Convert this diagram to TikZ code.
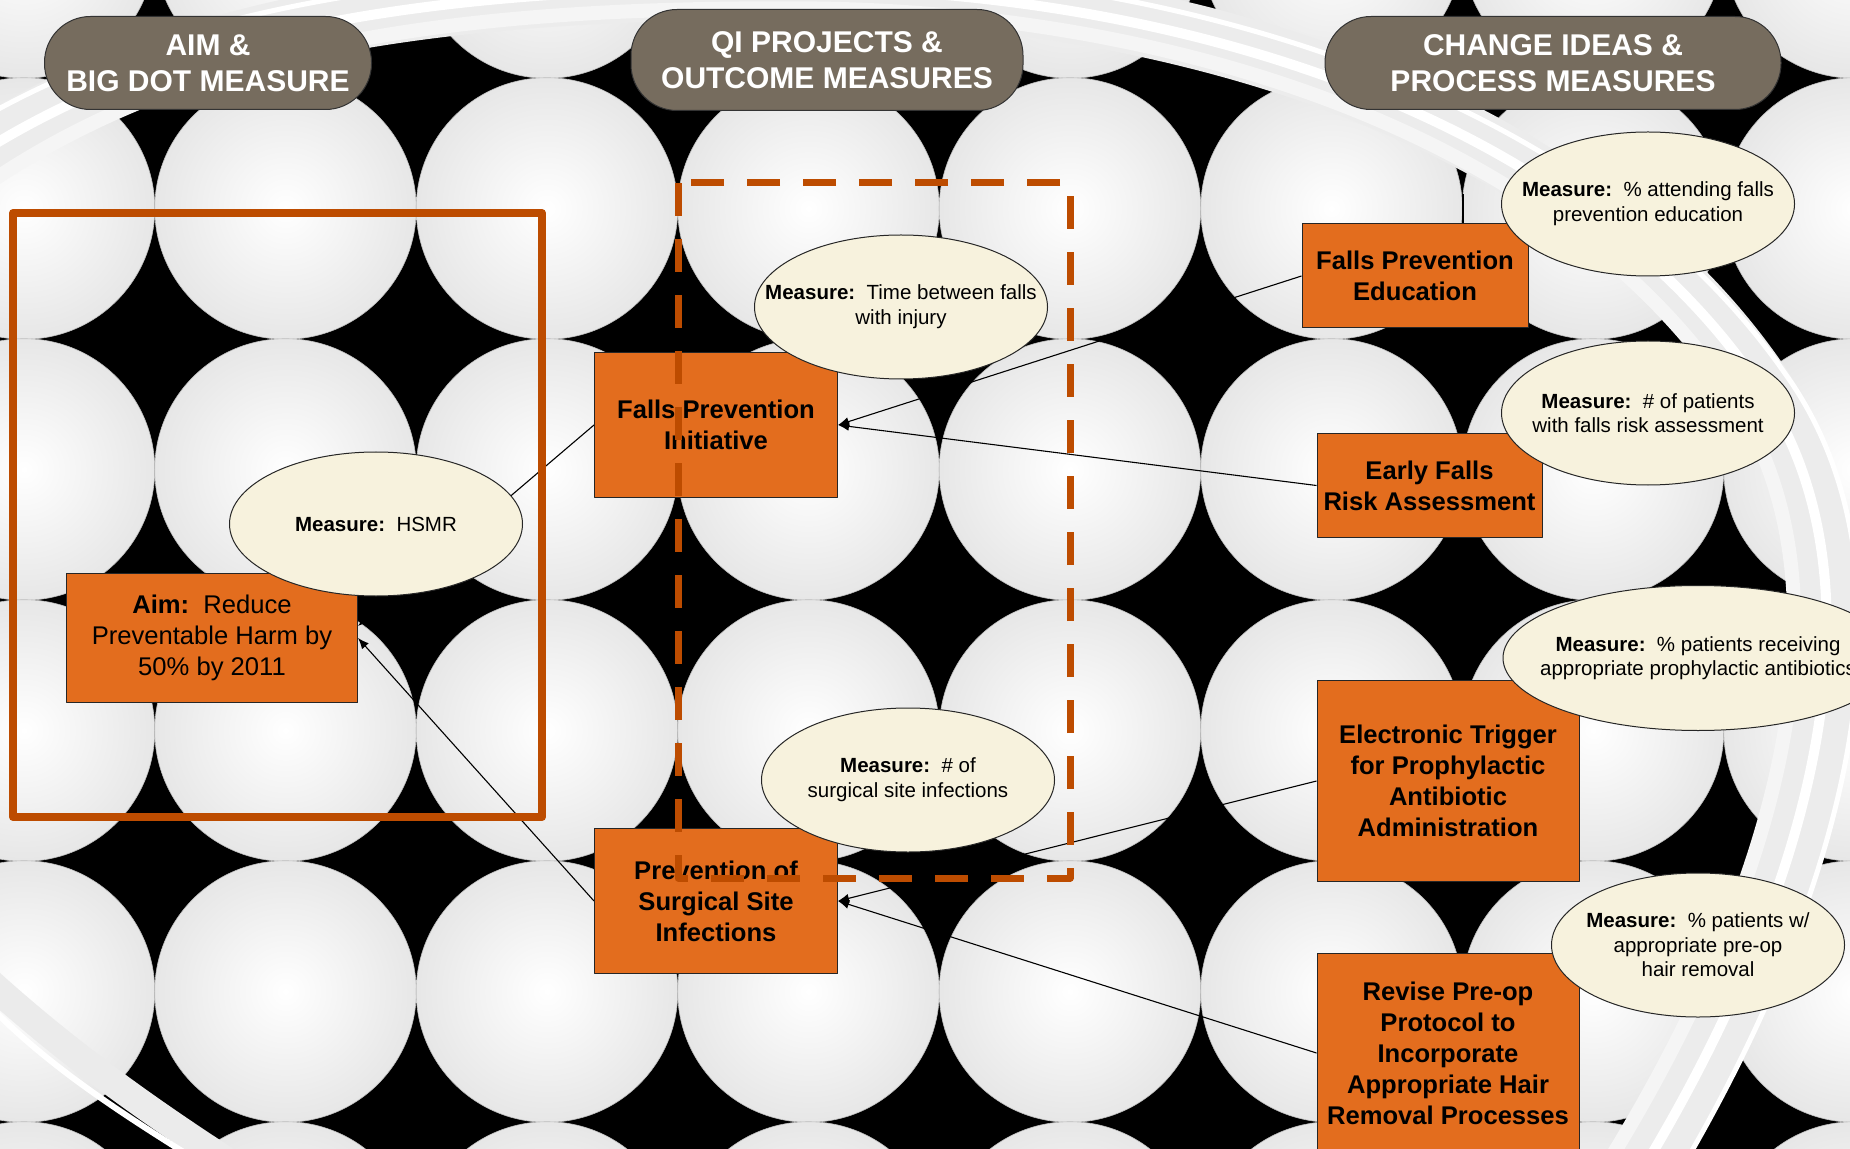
\documentclass[tikz,border=0pt]{standalone}
\usepackage{fontspec}
\setmainfont{Liberation Sans}
\usetikzlibrary{shapes.geometric,arrows.meta}
\definecolor{HeaderTaupe}{HTML}{766C5E}
\definecolor{BoxOrange}{HTML}{E36D1E}
\definecolor{FrameOrange}{HTML}{BD4C00}
\definecolor{MeasureCream}{HTML}{F7F2DD}
\pgfdeclarelayer{background}
\pgfdeclarelayer{links}
\pgfsetlayers{background,links,main}
\newcommand\swirlpath{(-60,180) .. controls (150,30) and (420,-14) .. (800,-12) .. controls (1150,-10) and (1560,100) .. (1755,380) .. controls (1885,560) and (1835,860) .. (1630,1190)}

\begin{document}
\begin{tikzpicture}[x=0.5pt,y=-0.5pt,line cap=round,line join=round,
  header/.style={draw=black!80,line width=0.5pt,fill=HeaderTaupe,text=white,font=\fontsize{15}{18}\selectfont\bfseries,align=center,rounded corners=23pt,inner sep=2pt},
  project/.style={draw=black!85,line width=0.5pt,fill=BoxOrange,font=\fontsize{12.8}{15.5}\selectfont\bfseries,align=center,inner sep=2pt},
  measure/.style={ellipse,draw=black!85,line width=0.5pt,fill=MeasureCream,font=\fontsize{10.25}{12.3}\selectfont,align=center,inner xsep=-80pt,inner ysep=0pt,minimum width=146.5pt,minimum height=72pt},
  link/.style={line width=0.55pt,-{Latex[length=5.5pt,width=4.5pt]}}]
  \useasboundingbox (0,0) rectangle (1850,1149);
  \begin{pgfonlayer}{background}
    \clip (0,0) rectangle (1850,1149);
    \fill[black] (0,0) rectangle (1850,1149);
    \foreach \row in {0,...,5}
      \foreach \col in {0,...,7}
        \draw[gray!50,line width=0.3pt,inner color=white,outer color=gray!19] ({24+261.5*\col},{-52.5+261*\row}) circle[radius=130.75];
    \draw[gray!15,line width=32pt] \swirlpath;
    \draw[white,line width=5pt] \swirlpath;
    \begin{scope}[shift={(900,570)},scale=1.035,shift={(-900,-570)}]
      \draw[white,line width=2.5pt] \swirlpath;
    \end{scope}
    \begin{scope}[shift={(900,570)},scale=0.965,shift={(-900,-570)}]
      \draw[gray!8,line width=7pt] \swirlpath;
    \end{scope}
    \draw[gray!16,line width=14pt] (-40,955) .. controls (60,1050) and (160,1120) .. (280,1195);
    \draw[white,line width=3pt] (-30,985) .. controls (50,1075) and (150,1130) .. (260,1200);
  \end{pgfonlayer}

  \node[header,minimum width=163.5pt,minimum height=46.5pt] (hAim) at (208,63) {AIM \&\\BIG DOT MEASURE};
  \node[header,minimum width=196pt,minimum height=50.5pt] (hQI) at (827,60) {QI PROJECTS \&\\OUTCOME MEASURES};
  \node[header,minimum width=228pt,minimum height=46.5pt] (hChange) at (1553,63) {CHANGE IDEAS \&\\PROCESS MEASURES};

  \draw[FrameOrange,line width=4pt,line cap=butt] (13,213) rectangle (542,817);

  \node[project,font=\fontsize{12.8}{15.5}\selectfont,minimum width=145.5pt,minimum height=64.5pt] (aim) at (212,638) {\textbf{Aim:}\ \ Reduce\\Preventable Harm by\\50\% by 2011};
  \node[project,minimum width=121.5pt,minimum height=72pt] (fpi) at (716,425) {Falls Prevention\\Initiative};
  \node[project,minimum width=121.5pt,minimum height=72.5pt] (pssi) at (716,901) {Prevention of\\Surgical Site\\Infections};
  \node[project,minimum width=113pt,minimum height=52pt] (fpe) at (1415,276) {Falls Prevention\\Education};
  \node[project,minimum width=112.5pt,minimum height=51.5pt] (efra) at (1429.5,485.5) {Early Falls\\Risk Assessment};
  \node[project,minimum width=131pt,minimum height=100.5pt] (etpa) at (1448,781) {Electronic Trigger\\for Prophylactic\\Antibiotic\\Administration};
  \node[project,minimum width=131pt,minimum height=100pt] (rpp) at (1448,1053) {Revise Pre-op\\Protocol to\\Incorporate\\Appropriate Hair\\Removal Processes};

  \node[measure] (mhsmr) at (376,524) {\textbf{Measure:}\ \ HSMR};
  \node[measure] (mtime) at (901,307) {\textbf{Measure:}\ \ Time between falls\\with injury};
  \node[measure] (mssi) at (908,780) {\textbf{Measure:}\ \ \# of\\surgical site infections};
  \node[measure] (mfpe) at (1648,204) {\textbf{Measure:}\ \ \% attending falls\\prevention education};
  \node[measure] (mrisk) at (1648,413) {\textbf{Measure:}\ \ \# of patients\\with falls risk assessment};
  \node[measure,minimum width=195pt,minimum height=72.5pt] (mabx) at (1698,658) {\textbf{Measure:}\ \ \% patients receiving\\appropriate prophylactic antibiotics};
  \node[measure] (mhair) at (1698,945) {\textbf{Measure:}\ \ \% patients w/\\appropriate pre-op\\hair removal};

  \coordinate (fpetick) at (1463,194);
  \begin{pgfonlayer}{links}
    \draw[link] (fpi.west) -- ([yshift=6pt]aim.east);
    \draw[link] (pssi.west) -- (aim.east);
    \draw[link] (fpe.west) -- (fpi.east);
    \draw[link] (efra.west) -- (fpi.east);
    \draw[link] (etpa.west) -- (pssi.east);
    \draw[link] (rpp.west) -- (pssi.east);
    \draw[line width=0.55pt] (fpetick) -- (fpetick |- fpe.north);
  \end{pgfonlayer}

  \draw[FrameOrange,line width=3.5pt,line cap=butt,dash pattern=on 16.5pt off 11.5pt] (678,183) rectangle (1070,878);
\end{tikzpicture}
\end{document}
